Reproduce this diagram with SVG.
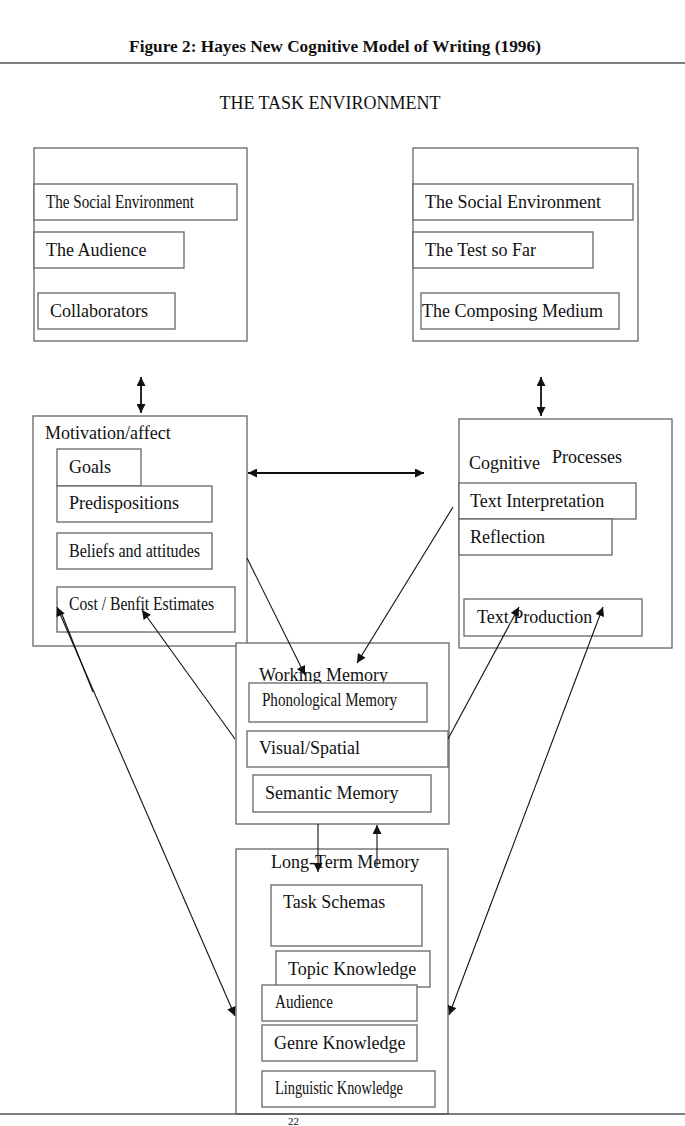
<svg xmlns="http://www.w3.org/2000/svg" width="685" height="1126" viewBox="0 0 685 1126">
<defs>
<style>
text{font-family:"Liberation Serif","Times New Roman",serif;font-size:18px;fill:#111}
.title{font-weight:bold;font-size:17.3px}
.box{fill:#fff;stroke:#666;stroke-width:1.3}
.arr{stroke:#111;stroke-width:1.1;fill:none}
.arr2{stroke:#111;stroke-width:1.8;fill:none}
</style>
<marker id="ah" viewBox="0 0 10 10" refX="10" refY="5" markerWidth="10" markerHeight="9" markerUnits="userSpaceOnUse" orient="auto-start-reverse">
<path d="M0,0 L10,5 L0,10 z" fill="#111"/>
</marker>
</defs>
<rect width="685" height="1126" fill="#fff"/>
<g id="header">
<text class="title" x="335" y="52" text-anchor="middle">Figure 2: Hayes New Cognitive Model of Writing (1996)</text>
<line x1="0" y1="63" x2="685" y2="63" stroke="#555" stroke-width="1.3"/>
<text x="330" y="109" text-anchor="middle">THE TASK ENVIRONMENT</text>
</g>
<g id="task-env-left">
<rect class="box" x="34" y="148" width="213" height="193"/>
<rect class="box" x="34" y="184" width="203" height="36"/>
<text x="46" y="208" textLength="148" lengthAdjust="spacingAndGlyphs">The Social Environment</text>
<rect class="box" x="34" y="232" width="150" height="36"/>
<text x="46" y="256">The Audience</text>
<rect class="box" x="38" y="293" width="137" height="36"/>
<text x="50" y="317">Collaborators</text>
</g>
<g id="task-env-right">
<rect class="box" x="413" y="148" width="225" height="193"/>
<rect class="box" x="413" y="184" width="220" height="36"/>
<text x="425" y="208">The Social Environment</text>
<rect class="box" x="413" y="232" width="180" height="36"/>
<text x="425" y="256">The Test so Far</text>
<rect class="box" x="421" y="293" width="198" height="36"/>
<text x="422" y="317">The Composing Medium</text>
</g>
<g id="motivation">
<rect class="box" x="33" y="416" width="214" height="230"/>
<text x="45" y="439">Motivation/affect</text>
<rect class="box" x="57" y="449" width="84" height="37"/>
<text x="69" y="473">Goals</text>
<rect class="box" x="57" y="486" width="155" height="36"/>
<text x="69" y="509">Predispositions</text>
<rect class="box" x="57" y="533" width="155" height="36"/>
<text x="69" y="557" textLength="131" lengthAdjust="spacingAndGlyphs">Beliefs and attitudes</text>
<rect class="box" x="57" y="587" width="178" height="45"/>
<text x="69" y="610" textLength="145" lengthAdjust="spacingAndGlyphs">Cost / Benfit Estimates</text>
</g>
<g id="cognitive">
<rect class="box" x="459" y="419" width="213" height="229"/>
<text x="469" y="469">Cognitive</text>
<text x="552" y="463">Processes</text>
<rect class="box" x="459" y="483" width="177" height="36"/>
<text x="470" y="507">Text Interpretation</text>
<rect class="box" x="459" y="519" width="153" height="36"/>
<text x="470" y="543">Reflection</text>
<rect class="box" x="464" y="599" width="178" height="37"/>
<text x="477" y="623">Text Production</text>
</g>
<g id="working-memory">
<rect class="box" x="236" y="643" width="213" height="181"/>
<text x="259" y="681">Working Memory</text>
<rect class="box" x="249" y="683" width="178" height="39"/>
<text x="262" y="706" textLength="135" lengthAdjust="spacingAndGlyphs">Phonological Memory</text>
<rect class="box" x="247" y="731" width="201" height="36"/>
<text x="259" y="754">Visual/Spatial</text>
<rect class="box" x="253" y="775" width="178" height="37"/>
<text x="265" y="799">Semantic Memory</text>
</g>
<g id="long-term-memory">
<rect class="box" x="236" y="849" width="212" height="265"/>
<text x="271" y="868">Long-Term Memory</text>
<rect class="box" x="271" y="885" width="151" height="61"/>
<text x="283" y="908">Task Schemas</text>
<rect class="box" x="276" y="951" width="154" height="36"/>
<text x="288" y="975">Topic Knowledge</text>
<rect class="box" x="262" y="985" width="155" height="36"/>
<text x="275" y="1008" textLength="58" lengthAdjust="spacingAndGlyphs">Audience</text>
<rect class="box" x="262" y="1025" width="155" height="36"/>
<text x="274" y="1049">Genre Knowledge</text>
<rect class="box" x="262" y="1071" width="173" height="36"/>
<text x="275" y="1094" textLength="128" lengthAdjust="spacingAndGlyphs">Linguistic Knowledge</text>
</g>
<g id="footer">
<line x1="0" y1="1114" x2="685" y2="1114" stroke="#555" stroke-width="1.3"/>
<text x="288" y="1125" style="font-size:11px">22</text>
</g>
<g id="connectors">
<line class="arr2" x1="141" y1="377" x2="141" y2="413" marker-start="url(#ah)" marker-end="url(#ah)"/>
<line class="arr2" x1="541" y1="377" x2="541" y2="416" marker-start="url(#ah)" marker-end="url(#ah)"/>
<line class="arr2" x1="248" y1="473" x2="424" y2="473" marker-start="url(#ah)" marker-end="url(#ah)"/>
<line class="arr" x1="247" y1="558" x2="305" y2="675" marker-end="url(#ah)"/>
<line class="arr" x1="453" y1="507" x2="357" y2="663" marker-end="url(#ah)"/>
<line class="arr" x1="235" y1="739" x2="142" y2="610" marker-end="url(#ah)"/>
<line class="arr" x1="57" y1="607" x2="235" y2="1016" marker-start="url(#ah)" marker-end="url(#ah)"/>
<line class="arr" x1="61" y1="612" x2="93" y2="692"/>
<line class="arr" x1="448" y1="739" x2="519" y2="607" marker-end="url(#ah)"/>
<line class="arr" x1="449" y1="1015" x2="603" y2="607" marker-start="url(#ah)" marker-end="url(#ah)"/>
<line class="arr" x1="318" y1="824" x2="318" y2="872" marker-end="url(#ah)"/>
<line class="arr" x1="377" y1="866" x2="377" y2="825" marker-end="url(#ah)"/>
</g>
</svg>
